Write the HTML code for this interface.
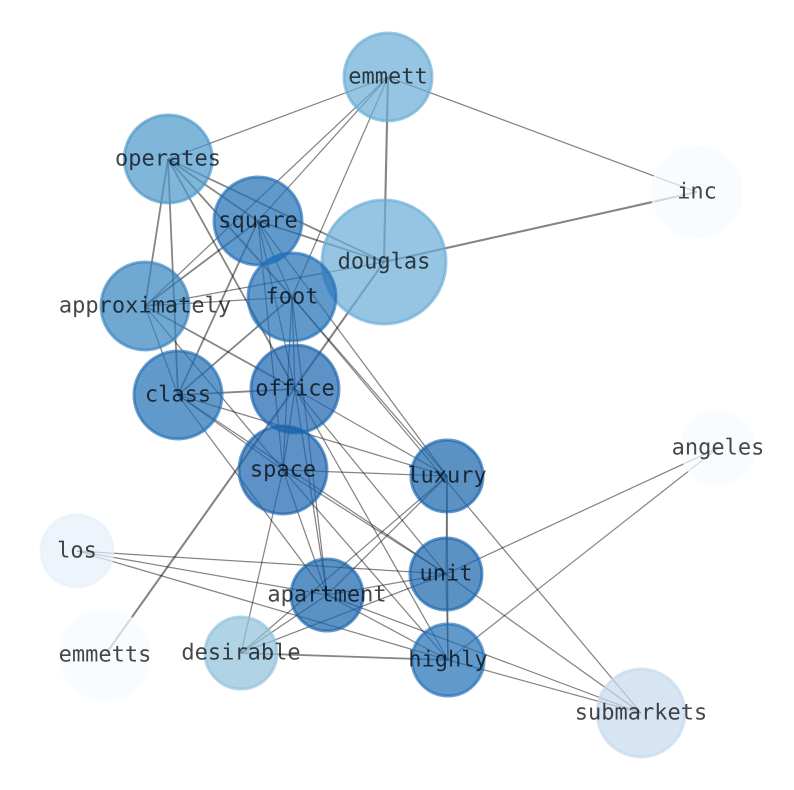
<!DOCTYPE html>
<html><head><meta charset="utf-8"><style>
html,body{margin:0;padding:0;background:#fff;width:794px;height:790px;overflow:hidden}
svg{display:block}
text{font-family:"DejaVu Sans Mono","Liberation Mono",monospace;font-size:22px;text-anchor:middle;fill:#000;fill-opacity:.72;text-rendering:geometricPrecision}
circle{stroke-width:3;fill-opacity:.7;stroke-opacity:.65}
line{stroke:#000;stroke-opacity:.48;stroke-width:1.25}
.m{stroke-width:1.8}
.t{stroke-width:2.1}
</style></head><body>
<svg width="794" height="790" viewBox="0 0 794 790" xmlns="http://www.w3.org/2000/svg">
<g>
<line x1="388" y1="77" x2="168" y2="159"/>
<line x1="388" y1="77" x2="697" y2="192"/>
<line x1="388" y1="77" x2="258" y2="221"/>
<line x1="388" y1="77" x2="145" y2="306"/>
<line x1="388" y1="77" x2="292" y2="297"/>
<line class="t" x1="388" y1="77" x2="384" y2="262"/>
<line class="t" x1="697" y1="192" x2="384" y2="262"/>
<line class="t" x1="105" y1="655" x2="384" y2="262"/>
<line class="m" x1="168" y1="159" x2="145" y2="306"/>
<line class="m" x1="168" y1="159" x2="178" y2="395"/>
<line class="m" x1="168" y1="159" x2="295" y2="389"/>
<line class="m" x1="168" y1="159" x2="292" y2="297"/>
<line class="m" x1="168" y1="159" x2="258" y2="221"/>
<line class="m" x1="168" y1="159" x2="384" y2="262"/>
<line class="m" x1="258" y1="221" x2="145" y2="306"/>
<line class="m" x1="258" y1="221" x2="178" y2="395"/>
<line class="m" x1="258" y1="221" x2="384" y2="262"/>
<line x1="258" y1="221" x2="292" y2="297"/>
<line x1="258" y1="221" x2="295" y2="389"/>
<line x1="258" y1="221" x2="283" y2="470"/>
<line x1="258" y1="221" x2="447" y2="476"/>
<line x1="145" y1="306" x2="384" y2="262"/>
<line x1="145" y1="306" x2="292" y2="297"/>
<line x1="145" y1="306" x2="178" y2="395"/>
<line class="m" x1="145" y1="306" x2="295" y2="389"/>
<line x1="145" y1="306" x2="283" y2="470"/>
<line class="m" x1="292" y1="297" x2="178" y2="395"/>
<line x1="292" y1="297" x2="295" y2="389"/>
<line x1="292" y1="297" x2="283" y2="470"/>
<line x1="292" y1="297" x2="327" y2="595"/>
<line x1="292" y1="297" x2="447" y2="476"/>
<line x1="292" y1="297" x2="641" y2="713"/>
<line class="m" x1="178" y1="395" x2="295" y2="389"/>
<line x1="178" y1="395" x2="283" y2="470"/>
<line x1="178" y1="395" x2="447" y2="476"/>
<line x1="178" y1="395" x2="446" y2="574"/>
<line x1="178" y1="395" x2="327" y2="595"/>
<line x1="295" y1="389" x2="283" y2="470"/>
<line x1="295" y1="389" x2="447" y2="476"/>
<line x1="295" y1="389" x2="446" y2="574"/>
<line x1="295" y1="389" x2="448" y2="660"/>
<line x1="295" y1="389" x2="327" y2="595"/>
<line x1="283" y1="470" x2="447" y2="476"/>
<line x1="283" y1="470" x2="446" y2="574"/>
<line x1="283" y1="470" x2="448" y2="660"/>
<line x1="283" y1="470" x2="327" y2="595"/>
<line x1="283" y1="470" x2="241" y2="653"/>
<line x1="447" y1="476" x2="446" y2="574"/>
<line x1="447" y1="476" x2="448" y2="660"/>
<line x1="447" y1="476" x2="327" y2="595"/>
<line x1="447" y1="476" x2="241" y2="653"/>
<line x1="446" y1="574" x2="448" y2="660"/>
<line x1="446" y1="574" x2="327" y2="595"/>
<line x1="446" y1="574" x2="241" y2="653"/>
<line x1="446" y1="574" x2="718" y2="448"/>
<line x1="446" y1="574" x2="77" y2="551"/>
<line x1="446" y1="574" x2="641" y2="713"/>
<line x1="448" y1="660" x2="718" y2="448"/>
<line x1="448" y1="660" x2="77" y2="551"/>
<line x1="448" y1="660" x2="641" y2="713"/>
<line class="m" x1="448" y1="660" x2="241" y2="653"/>
<line x1="448" y1="660" x2="327" y2="595"/>
<line x1="327" y1="595" x2="77" y2="551"/>
<line x1="327" y1="595" x2="241" y2="653"/>
<line x1="327" y1="595" x2="641" y2="713"/>
</g>
<g>
<circle cx="388" cy="77" r="44" fill="#68acd6" stroke="#68acd6"/>
<circle cx="697" cy="192" r="45" fill="#f7fbff" stroke="#f7fbff"/>
<circle cx="168.300" cy="159" r="44" fill="#4a97ca" stroke="#4a97ca"/>
<circle cx="384" cy="262" r="62" fill="#68acd6" stroke="#68acd6"/>
<circle cx="258" cy="221" r="44" fill="#206db5" stroke="#206db5"/>
<circle cx="145" cy="306" r="44" fill="#3483bd" stroke="#3483bd"/>
<circle cx="292" cy="297" r="44" fill="#206db5" stroke="#206db5"/>
<circle cx="178" cy="395" r="44" fill="#206db5" stroke="#206db5"/>
<circle cx="295" cy="389" r="44" fill="#1a62ad" stroke="#1a62ad"/>
<circle cx="283" cy="470" r="44" fill="#1a62ad" stroke="#1a62ad"/>
<circle cx="447" cy="476" r="36" fill="#1663aa" stroke="#1663aa"/>
<circle cx="446" cy="574" r="36" fill="#1663aa" stroke="#1663aa"/>
<circle cx="327" cy="595" r="36" fill="#1663aa" stroke="#1663aa"/>
<circle cx="448" cy="660" r="36" fill="#206db5" stroke="#206db5"/>
<circle cx="241" cy="653" r="36" fill="#90c0db" stroke="#90c0db"/>
<circle cx="77" cy="551" r="36" fill="#e5eff9" stroke="#e5eff9"/>
<circle cx="105" cy="655" r="45" fill="#f7fbff" stroke="#f7fbff"/>
<circle cx="718" cy="448" r="37" fill="#f7fbff" stroke="#f7fbff"/>
<circle cx="641" cy="713" r="44" fill="#c6d9ec" stroke="#c6d9ec"/>
</g>
<g>
<text x="388" y="83.4">emmett</text>
<text x="697" y="198.4">inc</text>
<text x="168" y="165.4">operates</text>
<text x="384" y="268.4">douglas</text>
<text x="258" y="227.4">square</text>
<text x="145" y="312.4">approximately</text>
<text x="292" y="303.4">foot</text>
<text x="178" y="401.4">class</text>
<text x="295" y="395.4">office</text>
<text x="283" y="476.4">space</text>
<text x="447" y="482.4">luxury</text>
<text x="446" y="580.4">unit</text>
<text x="327" y="601.4">apartment</text>
<text x="448" y="666.4">highly</text>
<text x="241" y="659.4">desirable</text>
<text x="77" y="557.4">los</text>
<text x="105" y="661.4">emmetts</text>
<text x="718" y="454.4">angeles</text>
<text x="641" y="719.4">submarkets</text>
</g>
</svg>
</body></html>
